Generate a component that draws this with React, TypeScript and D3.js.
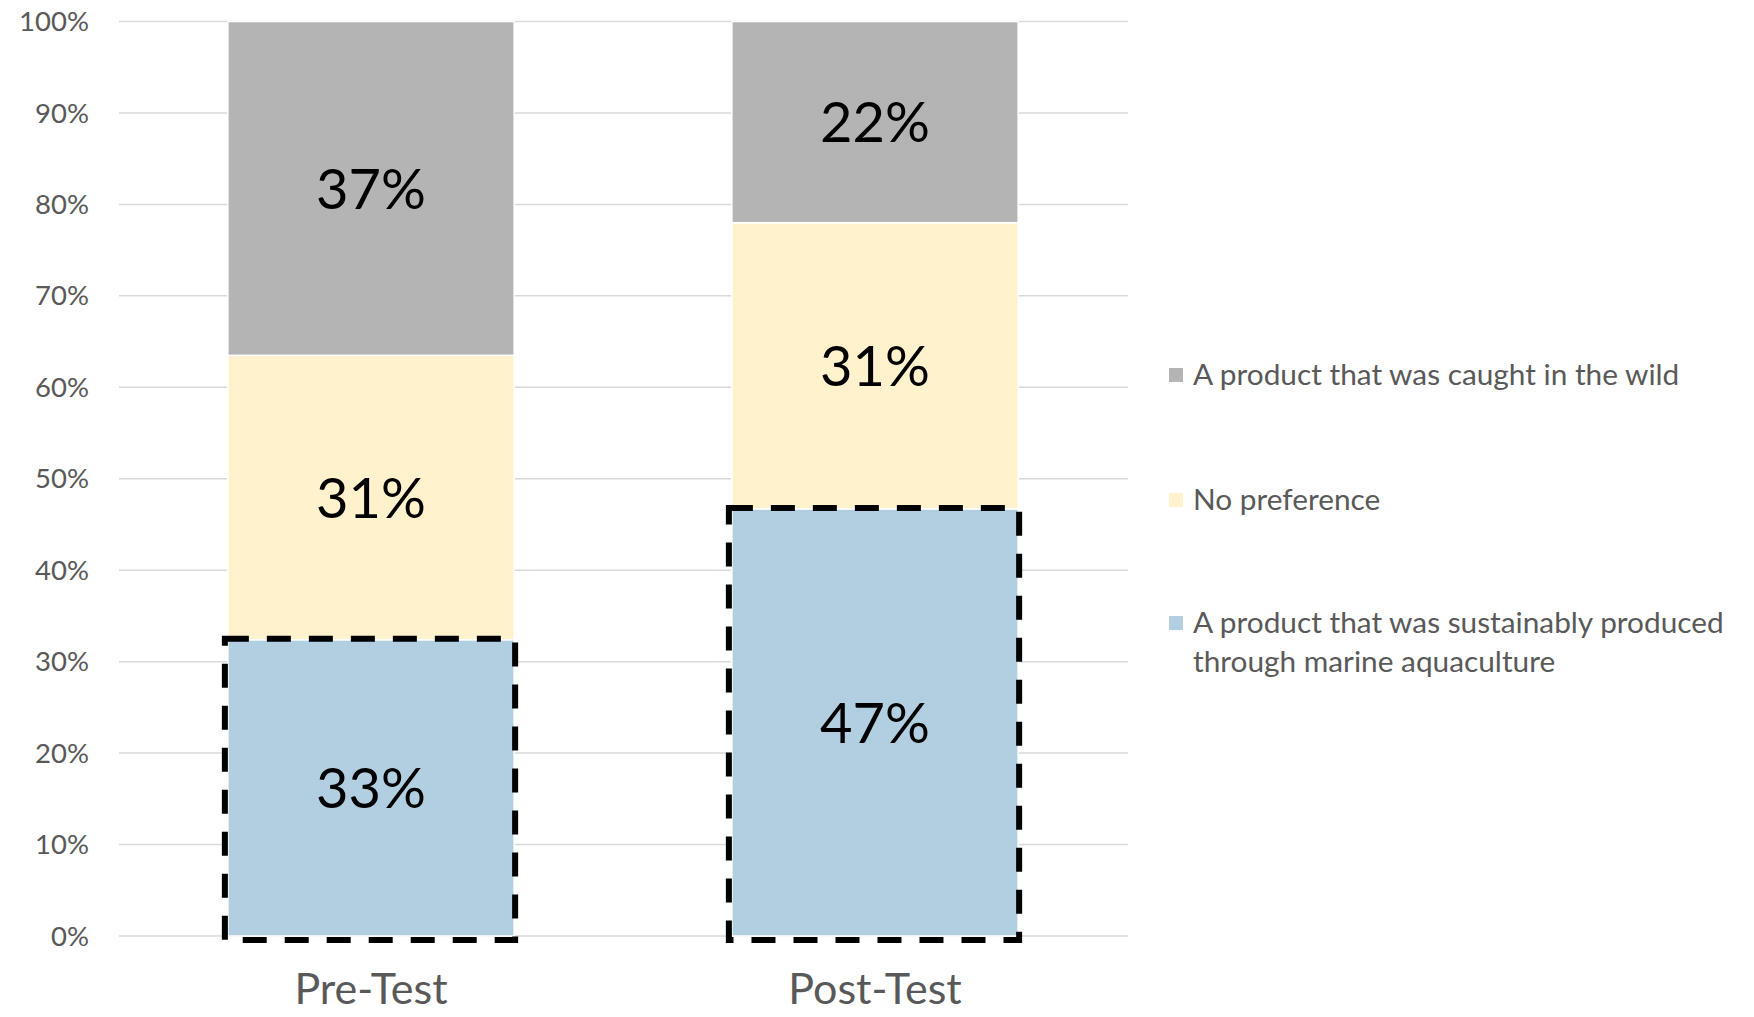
import * as d3 from "d3";
import React from "react";

const categories = ["Pre-Test", "Post-Test"];
const aquaculture = [32.4, 46.7];
const noPreference = [31.1, 31.3];
const wild = [36.5, 22.0];
const labelText = [
  ["33%", "47%"],
  ["31%", "31%"],
  ["37%", "22%"],
];
const yTicks = [0, 10, 20, 30, 40, 50, 60, 70, 80, 90, 100];
const colors = ["#b1cfe1", "#fff2cc", "#b4b4b4"];

const W = 1754;
const H = 1017;
const margin = { top: 21.5, left: 119, right: 627, bottom: 81 };
const FONT = "Lato, 'Open Sans', sans-serif";

const App = () => {
  const x = d3
    .scaleBand()
    .domain(categories)
    .range([margin.left, W - margin.right])
    .paddingInner(0.432)
    .paddingOuter(0.216);
  const y = d3
    .scaleLinear()
    .domain([0, 100])
    .range([H - margin.bottom, margin.top]);

  const rows = categories.map((c, i) => ({
    cat: c,
    s0: aquaculture[i],
    s1: noPreference[i],
    s2: wild[i],
  }));
  const stack = d3.stack<any>().keys(["s0", "s1", "s2"])(rows);

  // legend order top to bottom: wild, no preference, aquaculture
  const legend = [
    { idx: 2, lines: ["A product that was caught in the wild"], y: 375 },
    { idx: 1, lines: ["No preference"], y: 500 },
    {
      idx: 0,
      lines: ["A product that was sustainably produced", "through marine aquaculture"],
      y: 623,
    },
  ];

  return (
    <svg
      width={W}
      height={H}
      style={{ position: "absolute", top: 0, left: 0, background: "#fff" }}
      fontFamily={FONT}
    >
      {/* gridlines */}
      {yTicks.map((t) => (
        <line
          key={t}
          x1={margin.left}
          x2={W - margin.right + 1}
          y1={y(t)}
          y2={y(t)}
          stroke="#d9d9d9"
          strokeWidth={1.5}
        />
      ))}
      {yTicks.map((t) => (
        <text
          key={"l" + t}
          x={89}
          y={y(t)}
          dy="0.35em"
          textAnchor="end"
          fontSize={27.5}
          fill="#595959"
        >
          {t}%
        </text>
      ))}

      {/* stacked bars */}
      {stack.map((layer, si) => (
        <g key={si}>
          {layer.map((d, ci) => (
            <rect
              key={ci}
              x={x(d.data.cat)!}
              width={x.bandwidth()}
              y={y(d[1])}
              height={y(d[0]) - y(d[1])}
              fill={colors[si]}
              stroke="#fff"
              strokeWidth={1.5}
            />
          ))}
        </g>
      ))}

      {/* dashed outline around aquaculture segment */}
      {stack[0].map((d, ci) => (
        <rect
          key={"d" + ci}
          x={x(d.data.cat)! - 3}
          width={x.bandwidth() + 4}
          y={y(d[1]) - 1}
          height={y(d[0]) - y(d[1]) + 5}
          fill="none"
          stroke="#000"
          strokeWidth={6}
          strokeDasharray="24 18"
        />
      ))}

      {/* data labels */}
      {stack.map((layer, si) =>
        layer.map((d, ci) => (
          <text
            key={si + "-" + ci}
            x={x(d.data.cat)! + x.bandwidth() / 2}
            y={(y(d[0]) + y(d[1])) / 2}
            dy="0.36em"
            textAnchor="middle"
            fontSize={56}
            fill="#000"
          >
            {labelText[si][ci]}
          </text>
        ))
      )}

      {/* category labels */}
      {categories.map((c) => (
        <text
          key={c}
          x={x(c)! + x.bandwidth() / 2}
          y={1004}
          textAnchor="middle"
          fontSize={43}
          fill="#595959"
        >
          {c}
        </text>
      ))}

      {/* legend */}
      {legend.map((l) => (
        <g key={l.idx}>
          <rect x={1169} y={l.y - 7} width={14} height={14} fill={colors[l.idx]} />
          {l.lines.map((line, li) => (
            <text
              key={li}
              x={1193}
              y={l.y + li * 39}
              dy="0.35em"
              fontSize={29.8}
              fill="#595959"
            >
              {line}
            </text>
          ))}
        </g>
      ))}
    </svg>
  );
};

export default App;
